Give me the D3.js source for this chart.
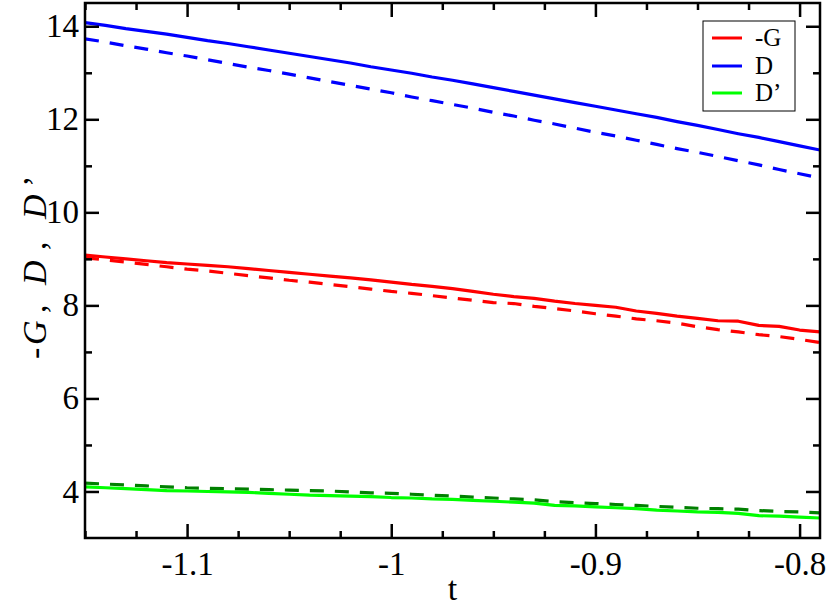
<!DOCTYPE html>
<html><head><meta charset="utf-8">
<script src="https://cdn.jsdelivr.net/npm/d3@7"></script>
<style>body{margin:0;background:#fff}svg{display:block}
svg text{font-family:"Liberation Serif","Times New Roman",Tinos,"DejaVu Serif",serif !important;}</style>
</head><body>
<svg id="c" width="830" height="606"></svg>
<script>
const tValues = [-1.15,-1.14,-1.13,-1.12,-1.11,-1.10,-1.09,-1.08,-1.07,-1.06,-1.05,-1.04,-1.03,-1.02,-1.01,-1.00,-0.99,-0.98,-0.97,-0.96,-0.95,-0.94,-0.93,-0.92,-0.91,-0.90,-0.89,-0.88,-0.87,-0.86,-0.85,-0.84,-0.83,-0.82,-0.81,-0.80,-0.79];
const negG      = [9.08,9.04,9.00,8.96,8.92,8.89,8.86,8.83,8.79,8.75,8.71,8.67,8.63,8.59,8.55,8.50,8.45,8.41,8.36,8.30,8.24,8.19,8.15,8.09,8.04,8.00,7.96,7.88,7.83,7.77,7.72,7.67,7.66,7.57,7.55,7.47,7.43];
const negGdash  = [9.02,8.98,8.93,8.88,8.83,8.78,8.74,8.69,8.64,8.59,8.54,8.50,8.45,8.40,8.35,8.30,8.26,8.21,8.16,8.11,8.06,8.04,7.98,7.93,7.88,7.82,7.77,7.71,7.67,7.62,7.54,7.48,7.43,7.37,7.33,7.27,7.20];
const D         = [14.08,14.02,13.95,13.89,13.83,13.76,13.69,13.63,13.56,13.49,13.42,13.35,13.28,13.21,13.13,13.06,12.99,12.91,12.84,12.76,12.68,12.60,12.52,12.44,12.36,12.28,12.20,12.12,12.04,11.95,11.87,11.78,11.69,11.61,11.52,11.43,11.34];
const Ddash     = [13.73,13.66,13.58,13.51,13.43,13.36,13.28,13.20,13.12,13.05,12.97,12.89,12.81,12.73,12.65,12.57,12.48,12.40,12.32,12.24,12.15,12.07,11.98,11.90,11.81,11.72,11.64,11.55,11.46,11.37,11.29,11.20,11.11,11.02,10.92,10.83,10.74];
const Dp        = [4.10,4.08,4.06,4.04,4.02,4.01,4.00,3.99,3.98,3.96,3.94,3.92,3.91,3.90,3.89,3.87,3.86,3.84,3.83,3.81,3.79,3.77,3.75,3.70,3.69,3.67,3.65,3.63,3.60,3.58,3.56,3.55,3.53,3.48,3.47,3.45,3.43];
const Dpdash    = [4.18,4.16,4.14,4.12,4.10,4.08,4.07,4.06,4.05,4.04,4.03,4.02,4.01,3.99,3.97,3.96,3.94,3.92,3.90,3.88,3.86,3.84,3.82,3.78,3.76,3.74,3.72,3.70,3.68,3.66,3.64,3.63,3.62,3.59,3.57,3.56,3.54];
const xTicks = [-1.1,-1.0,-0.9,-0.8];
const xTickLabels = ["-1.1","-1","-0.9","-0.8"];
const yTicks = [4,6,8,10,12,14];
const legendLabels = ["-G","D","D\u2019"];

const svg = d3.select("#c");
const L=85, R=820, T=3, B=538;
const x = d3.scaleLinear().domain([-1.15,-0.79]).range([L,R]);
const y = d3.scaleLinear().domain([3,14.5]).range([B,T]);
const font = "Liberation Serif";

const series = [
  {v:Dpdash, c:"#008000", dash:"14,11"},
  {v:Dp, c:"#00ff00", dash:null},
  {v:negGdash, c:"#ff0000", dash:"14,11"},
  {v:negG, c:"#ff0000", dash:null},
  {v:Ddash, c:"#0000ff", dash:"14,11"},
  {v:D, c:"#0000ff", dash:null}
];
svg.append("clipPath").attr("id","pc").append("rect").attr("x",L).attr("y",T).attr("width",R-L).attr("height",B-T);
const line = d3.line().x((d,i)=>x(tValues[i])).y(d=>y(d));
const g = svg.append("g").attr("clip-path","url(#pc)");
series.forEach(s=>{
  g.append("path").attr("d",line(s.v)).attr("fill","none").attr("stroke",s.c)
   .attr("stroke-width",3.2).attr("stroke-dasharray",s.dash).attr("stroke-linejoin","round");
});

// axes (ticks inward on all sides)
const majorLen=14, minorLen=7;
const xMinor = d3.range(-1.15,-0.789,0.025).filter(v=>!xTicks.some(t=>Math.abs(t-v)<1e-6));
const yMinor = [5,7,9,11,13];
svg.append("g").attr("transform",`translate(0,${B})`)
  .call(d3.axisBottom(x).tickValues(xTicks).tickSize(-majorLen).tickFormat((d,i)=>xTickLabels[i]).tickPadding(14));
svg.append("g").attr("transform",`translate(0,${B})`)
  .call(d3.axisBottom(x).tickValues(xMinor).tickSize(-minorLen).tickFormat(""));
svg.append("g").attr("transform",`translate(0,${T})`)
  .call(d3.axisTop(x).tickValues(xTicks).tickSize(-majorLen).tickFormat(""));
svg.append("g").attr("transform",`translate(0,${T})`)
  .call(d3.axisTop(x).tickValues(xMinor).tickSize(-minorLen).tickFormat(""));
svg.append("g").attr("transform",`translate(${L},0)`)
  .call(d3.axisLeft(y).tickValues(yTicks).tickSize(-majorLen).tickFormat(d3.format("d")).tickPadding(6));
svg.append("g").attr("transform",`translate(${L},0)`)
  .call(d3.axisLeft(y).tickValues(yMinor).tickSize(-minorLen).tickFormat(""));
svg.append("g").attr("transform",`translate(${R},0)`)
  .call(d3.axisRight(y).tickValues(yTicks).tickSize(-majorLen).tickFormat(""));
svg.append("g").attr("transform",`translate(${R},0)`)
  .call(d3.axisRight(y).tickValues(yMinor).tickSize(-minorLen).tickFormat(""));
svg.selectAll(".domain").remove();
svg.selectAll("g").attr("font-family",font);
svg.selectAll(".tick line").attr("stroke","#000").attr("stroke-width",2.5);
svg.selectAll(".tick text").attr("font-size",33).attr("fill","#000");
svg.append("rect").attr("x",L).attr("y",T).attr("width",R-L).attr("height",B-T)
  .attr("fill","none").attr("stroke","#000").attr("stroke-width",2.5);

// axis titles
svg.append("text").attr("x",(L+R)/2).attr("y",600).attr("text-anchor","middle")
  .attr("font-size",34).text("t");
const yl = svg.append("text").attr("transform","translate(46,265) rotate(-90)")
  .attr("font-size",34);
[["-",false,-94],["G",true,-80],[",",false,-48],["D",true,-20],[",",false,15],["D",true,46],["\u2019",false,78]].forEach(([s,it,px])=>{
  yl.append("tspan").attr("x",px).attr("font-style",it?"italic":"normal").text(s);
});

// legend
const lg = svg.append("g");
lg.append("rect").attr("x",703).attr("y",21).attr("width",92).attr("height",90)
  .attr("fill","#fff").attr("stroke","#000").attr("stroke-width",1);
const legColors=["#ff0000","#0000ff","#00ff00"];
const legY=[38,66,93];
legendLabels.forEach((lab,i)=>{
  lg.append("line").attr("x1",712).attr("x2",742).attr("y1",legY[i]).attr("y2",legY[i])
    .attr("stroke",legColors[i]).attr("stroke-width",3);
  lg.append("text").attr("x",755).attr("y",legY[i]+8).attr("font-size",25).text(lab);
});
</script>
</body></html>
